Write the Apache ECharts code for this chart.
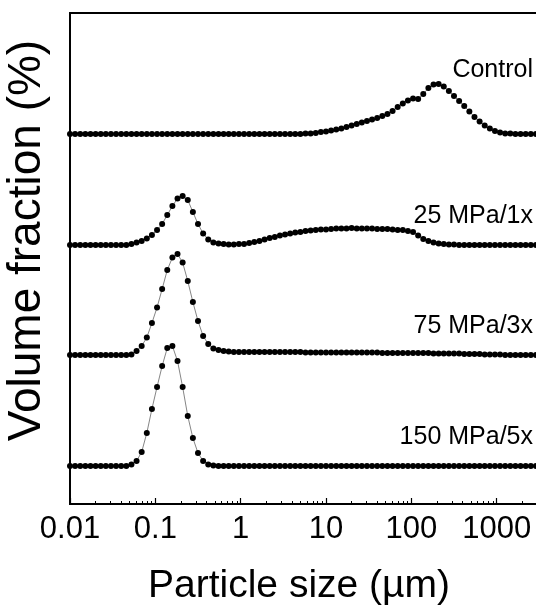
<!DOCTYPE html>
<html>
<head>
<meta charset="utf-8">
<script src="https://cdn.jsdelivr.net/npm/echarts@6/dist/echarts.min.js"></script>
<style>
html,body{margin:0;padding:0;background:#fff;}
#chart{width:536px;height:609px;}
</style>
</head>
<body>
<div id="chart"></div>
<script>
// Particle size classes (µm)
var sizes = [0.01,0.01148,0.01318,0.01514,0.01738,0.01995,0.02291,0.0263,0.0302,0.03467,
  0.03981,0.04571,0.05248,0.06026,0.06918,0.07943,0.0912,0.1047,0.1202,0.138,
  0.1585,0.182,0.2089,0.2399,0.2754,0.3162,0.3631,0.4169,0.4786,0.5495,
  0.631,0.7244,0.8318,0.955,1.096,1.259,1.445,1.66,1.905,2.188,
  2.512,2.884,3.311,3.802,4.365,5.012,5.754,6.607,7.586,8.71,
  10,11.48,13.18,15.14,17.38,19.95,22.91,26.3,30.2,34.67,
  39.81,45.71,52.48,60.26,69.18,79.43,91.2,104.7,120.2,138,
  158.5,182,208.9,239.9,275.4,316.2,363.1,416.9,478.6,549.5,
  631,724.4,831.8,955,1096,1259,1445,1660,1905,2188,
  2512,2884,3311,3802,4365,5012,5754,6607,7586,8710,10000];

var seriesNames = ['Control','25 MPa/1x','75 MPa/3x','150 MPa/5x'];
// vertical stacking offsets of each curve
var offsets = [74.0, 51.8, 29.8, 7.6];

var control = [0,0,0,0,0,0,0,0,0,0, 0,0,0,0,0,0,0,0,0,0, 0,0,0,0,0,0,0,0,0,0,
  0,0,0,0,0,0,0,0,0,0, 0,0,0,0,0,0,
  0.1,0.1,0.2,0.4,0.5,0.7,0.9,1.1,1.4,1.7,2.0,2.3,2.6,2.9,3.2,3.6,4.0,4.6,5.4,6.1,
  6.7,7.1,7.0,8.0,9.2,9.9,10.0,9.5,8.6,7.6,6.6,5.6,4.5,3.4,2.5,1.7,1.1,0.6,0.3,0.1,0.1,
  0,0,0,0,0,0,0,0,0,0,0,0,0,0];

var mpa25 = [0,0,0,0,0,0,0,0,0,0,0,0,
  0.2,0.5,0.8,1.3,2.0,3.0,4.2,6.0,7.8,9.3,9.8,9.0,6.6,4.2,2.3,1.1,0.5,0.3,0.2,0.1,
  0.1,0.2,0.2,0.4,0.6,0.8,1.1,1.4,1.6,1.9,2.1,2.3,2.5,2.6,2.8,2.9,3.0,3.1,3.1,3.2,
  3.3,3.3,3.3,3.4,3.3,3.3,3.3,3.3,3.2,3.2,3.2,3.1,3.0,3.0,2.8,2.6,1.9,1.2,0.8,0.5,
  0.3,0.2,0.1,0.1,
  0,0,0,0,0,0,0,0,0,0, 0,0,0,0,0,0,0,0,0,0, 0,0,0,0,0];

var mpa75 = [0,0,0,0,0,0,0,0,0,0,0,0,
  0.1,0.8,1.8,3.5,6.4,9.5,13.2,17.0,19.5,20.2,18.5,14.8,10.6,6.8,3.8,2.2,1.3,1.0,0.8,0.7,
  0.6,0.6,0.6,0.6,0.6,0.6,0.6,0.6,0.6,0.6,0.6,0.6,0.6,0.6,
  0.5,0.5,0.5,0.5,0.5,0.5,0.5,0.5,0.5,0.5,0.5,0.5,0.5,0.5,0.5,
  0.4,0.4,0.4,0.4,0.4,0.4,0.4,0.4,0.4,0.4,
  0.3,0.3,0.3,0.3,0.3,0.3,
  0.2,0.2,0.2,0.2,
  0.1,0.1,0.1,0.1,
  0,0,0,0,0,0,0,0,0,0,0,0,0,0,0,0];

var mpa150 = [0,0,0,0,0,0,0,0,0,0,0,0,
  0.3,1.0,2.8,6.6,11.4,15.8,20.0,23.6,24.0,21.0,15.8,10.0,5.6,2.6,1.0,0.3,0.1,
  0,0,0,0,0,0,0,0,0,0, 0,0,0,0,0,0,0,0,0,0, 0,0,0,0,0,0,0,0,0,0,
  0,0,0,0,0,0,0,0,0,0, 0,0,0,0,0,0,0,0,0,0, 0,0,0,0,0,0,0,0,0,0,
  0,0,0,0,0,0,0,0,0,0, 0,0];

var allValues = [control, mpa25, mpa75, mpa150];

var FONT = '"Liberation Sans", Arial, Helvetica, sans-serif';

var chart = echarts.init(document.getElementById('chart'), null, {renderer: 'canvas'});

var series = allValues.map(function (vals, k) {
  return {
    name: seriesNames[k],
    type: 'line',
    data: sizes.map(function (s, i) { return [s, vals[i] + offsets[k]]; }),
    symbol: 'circle',
    symbolSize: 6,
    showAllSymbol: true,
    itemStyle: {color: '#000'},
    lineStyle: {color: '#666', width: 0.8},
    z: 3
  };
});

var option = {
  animation: false,
  backgroundColor: '#fff',
  grid: {
    left: 70, top: 13, bottom: 105, right: -46,
    outerBoundsMode: 'none',
    containLabel: false,
    show: true, borderColor: '#000', borderWidth: 1.8, backgroundColor: 'transparent'
  },
  xAxis: {
    type: 'log',
    logBase: 10,
    min: 0.01,
    max: 10000,
    name: 'Particle size (µm)',
    nameLocation: 'middle',
    nameGap: 63,
    nameTextStyle: {fontFamily: FONT, fontSize: 39, color: '#000', padding: [0, 54, 0, 0]},
    axisLine: {show: true, lineStyle: {color: '#000', width: 1.8}},
    axisTick: {show: true, inside: true, length: 6, lineStyle: {color: '#000', width: 1.2}},
    minorTick: {show: true, splitNumber: 9, length: 3, lineStyle: {color: '#000', width: 1}},
    splitLine: {show: false},
    minorSplitLine: {show: false},
    axisLabel: {
      fontFamily: FONT, fontSize: 31, color: '#000', margin: 10,
      formatter: function (v) { return String(parseFloat(Number(v).toPrecision(6))); }
    }
  },
  yAxis: {
    type: 'value',
    min: 0,
    max: 98.2,
    name: 'Volume fraction (%)',
    nameLocation: 'middle',
    nameGap: 20,
    nameTextStyle: {fontFamily: FONT, fontSize: 46, color: '#000', padding: [0, 0, 0, 36]},
    axisLine: {show: true, lineStyle: {color: '#000', width: 1.8}},
    axisTick: {show: false},
    axisLabel: {show: false},
    splitLine: {show: false}
  },
  graphic: seriesNames.map(function (name, k) {
    var ys = [72, 218, 328, 439];
    return {
      type: 'text',
      right: 3,
      top: ys[k] - 14,
      style: {text: name, fontFamily: FONT, fontSize: 25, fill: '#000'}
    };
  }),
  series: series
};

chart.setOption(option);
</script>
</body>
</html>
